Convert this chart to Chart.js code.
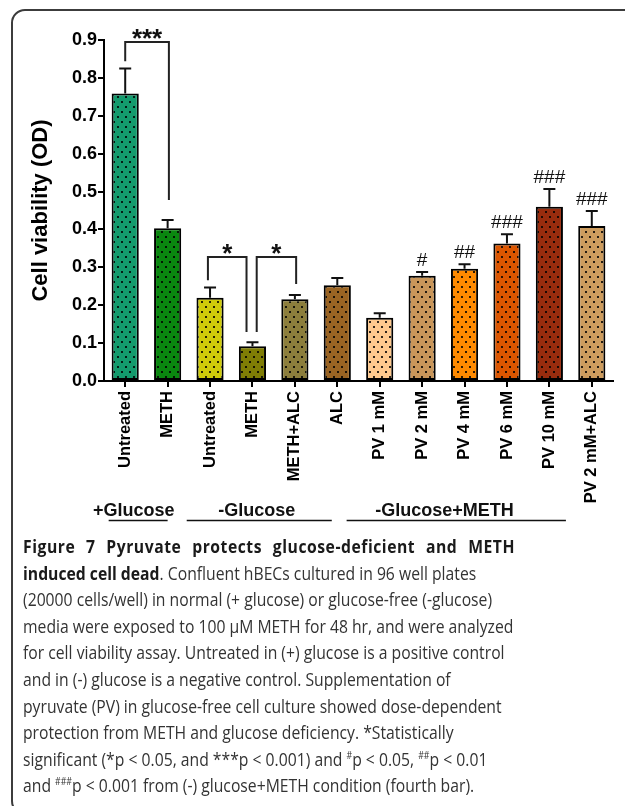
<!DOCTYPE html>
<html>
<head>
<meta charset="utf-8">
<script src="https://cdn.jsdelivr.net/npm/chart.js@4/dist/chart.umd.min.js"></script>
<style>
  html, body { margin: 0; padding: 0; background: #fff; }
  body { width: 625px; height: 806px; position: relative; overflow: hidden; }
  #frame {
    position: absolute; left: 11px; top: 9px; width: 660px; height: 806px;
    border: 2px solid #3c3c3c; border-radius: 14px; box-sizing: border-box;
  }
  #plot { position: absolute; left: 0; top: 0; }
  #caption {
    position: absolute; left: 23px; top: 533px;
    font-family: 'Open Sans', sans-serif; font-size: 18px; line-height: 26.6px;
    color: #333; white-space: nowrap; transform-origin: 0 0;
  }
  #caption > div { width: max-content; }
  #caption b { color: #1a1a1a; font-weight: 700; }
  #caption .title {
    font-weight: 700; color: #1a1a1a; letter-spacing: 0.6px;
    text-align: justify; text-align-last: justify;
  }
  #caption sup { font-size: 10px; vertical-align: 7px; line-height: 0; }
</style>
</head>
<body>
<div id="frame"></div>
<canvas id="plot" width="625" height="806"></canvas>
<div id="caption">
  <div class="title">Figure 7 Pyruvate protects glucose-deficient and METH</div>
  <div><b>induced cell dead</b>. Confluent hBECs cultured in 96 well plates</div>
  <div>(20000 cells/well) in normal (+ glucose) or glucose-free (-glucose)</div>
  <div>media were exposed to 100 µM METH for 48 hr, and were analyzed</div>
  <div>for cell viability assay. Untreated in (+) glucose is a positive control</div>
  <div>and in (-) glucose is a negative control. Supplementation of</div>
  <div>pyruvate (PV) in glucose-free cell culture showed dose-dependent</div>
  <div>protection from METH and glucose deficiency. *Statistically</div>
  <div>significant (*p &lt; 0.05, and ***p &lt; 0.001) and <sup>#</sup>p &lt; 0.05, <sup>##</sup>p &lt; 0.01</div>
  <div>and <sup>###</sup>p &lt; 0.001 from (-) glucose+METH condition (fourth bar).</div>
</div>
<script>
// ---- data ----
const categories = ['Untreated', 'METH', 'Untreated', 'METH', 'METH+ALC', 'ALC',
  'PV 1 mM', 'PV 2 mM', 'PV 4 mM', 'PV 6 mM', 'PV 10 mM', 'PV 2 mM+ALC'];
const viability = [0.759, 0.403, 0.220, 0.092, 0.216, 0.253, 0.167, 0.278, 0.296, 0.363, 0.460, 0.409];
const errorUpper = [0.066, 0.022, 0.027, 0.010, 0.011, 0.019, 0.012, 0.010, 0.012, 0.024, 0.047, 0.040];
const hashMarks = ['', '', '', '', '', '', '', '#', '##', '###', '###', '###'];
const groupLabels = ['+Glucose', '-Glucose', '-Glucose+METH'];
const yTicks = [0.0, 0.1, 0.2, 0.3, 0.4, 0.5, 0.6, 0.7, 0.8, 0.9];
const starLabels = ['***', '*', '*'];

// ---- styling ----
const barColors = ['#139b6d', '#0a870f', '#cfcc0a', '#7f7d05', '#8c7e3c', '#9a6423',
  '#fec98e', '#c9965a', '#ff8a00', '#dc5600', '#982c0e', '#cd9c5e'];

// significance brackets: legs in category units, heights in axis units
const bracketLayout = [
  { x1: 0, x2: 1.03, top: 0.895, left: 0.844, right: 0.478 },
  { x1: 1.95, x2: 2.86, top: 0.327, left: 0.266, right: 0.129 },
  { x1: 3.10, x2: 4.03, top: 0.327, left: 0.129, right: 0.256 }
];
// group captions under the axis: text centre and underline span, in category units
const groupLayout = [
  { at: 0.20, from: -0.39, to: 1.00 },
  { at: 3.10, from: 1.45, to: 4.87 },
  { at: 7.53, from: 5.22, to: 10.39 }
];

const FONT = "'Liberation Sans', Arial, sans-serif";

function dotted(color) {
  const c = document.createElement('canvas');
  c.width = 8; c.height = 10;
  const g = c.getContext('2d');
  g.fillStyle = color; g.fillRect(0, 0, 8, 10);
  g.fillStyle = 'rgba(0,0,0,0.82)';
  g.fillRect(1, 1, 2, 2);
  g.fillRect(5, 6, 2, 2);
  return g.createPattern(c, 'repeat');
}

const annotate = {
  id: 'annotate',
  afterDatasetsDraw(chart) {
    const { ctx, scales: { x, y }, chartArea } = chart;
    ctx.save();

    // upper error bars and # marks
    ctx.strokeStyle = '#111';
    ctx.lineWidth = 2;
    ctx.fillStyle = '#111';
    ctx.font = '19px ' + FONT;
    ctx.textAlign = 'center';
    ctx.textBaseline = 'alphabetic';
    viability.forEach((v, i) => {
      const cx = x.getPixelForValue(i);
      const top = y.getPixelForValue(v);
      const et = y.getPixelForValue(v + errorUpper[i]);
      ctx.beginPath();
      ctx.moveTo(cx, top); ctx.lineTo(cx, et);
      ctx.moveTo(cx - 6, et); ctx.lineTo(cx + 6, et);
      ctx.stroke();
      if (hashMarks[i]) ctx.fillText(hashMarks[i], cx, et - 6);
    });

    // significance brackets
    ctx.strokeStyle = '#222';
    ctx.lineWidth = 2;
    ctx.font = 'bold 26px ' + FONT;
    bracketLayout.forEach((b, i) => {
      const xa = x.getPixelForValue(b.x1), xb = x.getPixelForValue(b.x2);
      const yt = y.getPixelForValue(b.top);
      ctx.beginPath();
      ctx.moveTo(xa, y.getPixelForValue(b.left));
      ctx.lineTo(xa, yt); ctx.lineTo(xb, yt);
      ctx.lineTo(xb, y.getPixelForValue(b.right));
      ctx.stroke();
      ctx.fillText(starLabels[i], (xa + xb) / 2, yt + 5);
    });

    // group captions with underlines
    ctx.font = 'bold 18px ' + FONT;
    ctx.textBaseline = 'middle';
    ctx.lineWidth = 1.5;
    ctx.strokeStyle = '#111';
    const base = chartArea.bottom;
    groupLayout.forEach((g, i) => {
      ctx.fillText(groupLabels[i], x.getPixelForValue(g.at), base + 130);
      ctx.beginPath();
      ctx.moveTo(x.getPixelForValue(g.from), base + 139.5);
      ctx.lineTo(x.getPixelForValue(g.to), base + 139.5);
      ctx.stroke();
    });
    ctx.restore();
  }
};

new Chart(document.getElementById('plot'), {
  type: 'bar',
  data: {
    labels: categories,
    datasets: [{
      data: viability,
      backgroundColor: barColors.map(dotted),
      borderColor: '#000',
      borderWidth: 2,
      borderSkipped: false,
      barPercentage: 0.64,
      categoryPercentage: 1
    }]
  },
  options: {
    responsive: false,
    animation: false,
    devicePixelRatio: 1,
    layout: { padding: { left: 0, top: 40, right: 12, bottom: 295 } },
    plugins: { legend: { display: false }, tooltip: { enabled: false } },
    scales: {
      x: {
        grid: { display: true, offset: false, drawOnChartArea: false, drawTicks: true,
                tickLength: 6, color: '#000', lineWidth: 2 },
        border: { display: true, color: '#000', width: 2 },
        ticks: { autoSkip: false, minRotation: 90, maxRotation: 90, padding: 4,
                 color: '#000', font: { family: FONT, size: 16.5, weight: 'bold' } },
        afterFit: s => { s.height = 130; }
      },
      y: {
        min: 0, max: 0.9,
        afterBuildTicks: s => { s.ticks = yTicks.map(v => ({ value: v })); },
        grid: { display: true, drawOnChartArea: false, drawTicks: true,
                tickLength: 6, color: '#000', lineWidth: 2 },
        border: { display: true, color: '#000', width: 2 },
        ticks: { padding: 1, color: '#000', callback: v => Number(v).toFixed(1),
                 font: { family: FONT, size: 18, weight: 'bold' } },
        title: { display: true, text: 'Cell viability (OD)', color: '#000',
                 padding: { top: 28, bottom: 0 },
                 font: { family: FONT, size: 22, weight: 'bold' } },
        afterFit: s => { s.width = 104; }
      }
    }
  },
  plugins: [annotate]
});

// fit the caption to the column width
const cap = document.getElementById('caption');
const lines = cap.children;
const k = 490 / lines[3].offsetWidth;
cap.style.transform = 'scaleX(' + k + ')';
lines[0].style.width = (492 / k) + 'px';
</script>
</body>
</html>
